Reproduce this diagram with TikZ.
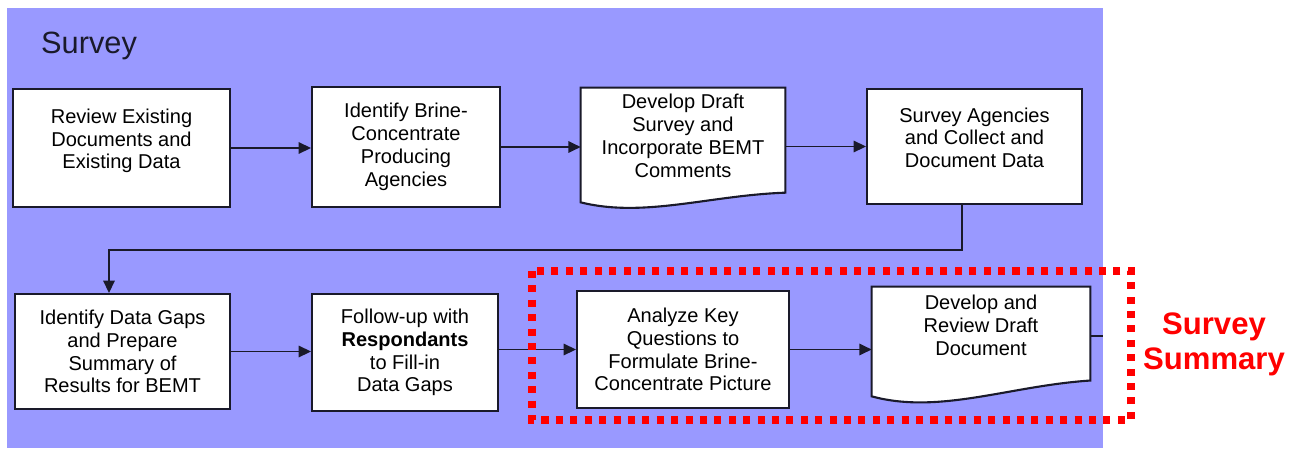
\documentclass[tikz,border=0pt]{standalone}
\usepackage{fontspec}
\setmainfont{Liberation Sans}
\usetikzlibrary{arrows.meta,calc,backgrounds}
\definecolor{bgblue}{HTML}{9999FF}
\definecolor{edge}{HTML}{1A1A2A}

\begin{document}
\begin{tikzpicture}[
        x=0.02cm, y=-0.02cm,
        box/.style={rectangle, draw=edge, line width=1.2pt, fill=white, align=center, inner sep=0pt, font=\fontsize{11.4}{13}\selectfont},
        doc/.style={rectangle, align=center, inner sep=0pt, font=\fontsize{11.4}{13}\selectfont},
        docline/.style={draw=edge, line width=1.2pt, fill=white},
        lift/.style={text depth=#1},
        arrow/.style={-{Triangle[length=7pt,width=6.5pt]}, line width=1.1pt, draw=edge},
        dots/.style={draw=red, line width=4pt, dash pattern=on 4pt off 4.2pt},
    ]
    \useasboundingbox (0,0) rectangle (1302,450);

    \begin{scope}[on background layer]
        \fill[bgblue] (7,8) rectangle (1103,448);
    \end{scope}

    \node[anchor=west, font=\fontsize{17.5}{20}\selectfont, text=edge] (title) at (35,46) {Survey};

    % top row
    \node[box, minimum width=4.34cm, minimum height=2.36cm, lift=10.4pt] (review) at (121.5,148) {Review Existing\\Documents and\\Existing Data};
    \node[box, minimum width=3.76cm, minimum height=2.4cm] (brine) at (406,147) {Identify Brine-\\Concentrate\\Producing\\Agencies};
    \node[doc, minimum width=4.08cm, minimum height=2.28cm, lift=10.4pt] (draft) at (683,145) {Develop Draft\\Survey and\\Incorporate BEMT\\Comments};
    \node[box, minimum width=4.3cm, minimum height=2.3cm, lift=10pt] (collect) at (974.5,146.5) {Survey Agencies\\and Collect and\\Document Data};

    % bottom row
    \node[box, minimum width=4.3cm, minimum height=2.3cm] (gaps) at (122.5,351.5) {Identify Data Gaps\\and Prepare\\Summary of\\Results for BEMT};
    \node[box, minimum width=3.72cm, minimum height=2.34cm] (follow) at (405,352.5) {Follow-up with\\\textbf{Respondants}\\to Fill-in\\Data Gaps};
    \node[box, minimum width=4.24cm, minimum height=2.34cm] (analyze) at (683,349.5) {Analyze Key\\Questions to\\Formulate Brine-\\Concentrate Picture};
    \node[doc, minimum width=4.36cm, minimum height=2.18cm, lift=18.7pt] (report) at (981,341.5) {Develop and\\Review Draft\\Document};

    % wavy document outlines
    \begin{scope}[on background layer]
        \draw[docline] (draft.north west) -- (draft.north east) -- ([yshift=5.5pt]draft.south east)
            .. controls ($(draft.south west)!0.63!(draft.south east)+(0pt,4pt)$)
            and ($(draft.south west)!0.31!(draft.south east)+(0pt,-9pt)$) .. (draft.south west) -- cycle;
        \draw[docline] (report.north west) -- (report.north east) -- ([yshift=9pt]report.south east)
            .. controls ($(report.south west)!0.63!(report.south east)+(0pt,6pt)$)
            and ($(report.south west)!0.31!(report.south east)+(0pt,-10.5pt)$) .. (report.south west) -- cycle;
    \end{scope}

    \coordinate (bend) at (109,250);
    \coordinate (stub) at (1103,336);

    \draw[arrow] (review.east) -- (review.east -| brine.west);
    \draw[arrow] (brine.east) -- (brine.east -| draft.west);
    \draw[arrow] (draft.east |- collect.west) -- (collect.west);
    \draw[arrow] ([xshift=-7pt]collect.south) |- (bend) -- (bend |- gaps.north);
    \draw[arrow] (gaps.east) -- (gaps.east -| follow.west);
    \draw[arrow] (follow.east |- analyze.west) -- (analyze.west);
    \draw[arrow] (analyze.east) -- (analyze.east -| report.west);
    \draw[draw=edge, line width=0.7pt] (report.east |- stub) -- (stub);

    % highlighted part
    \draw[dots] (532,271) rectangle (1131,420);
    \node[text=red, align=center, font=\fontsize{17.7}{19.8}\selectfont\bfseries] (summary) at (1214,344.5) {Survey\\Summary};

\end{tikzpicture}
\end{document}
